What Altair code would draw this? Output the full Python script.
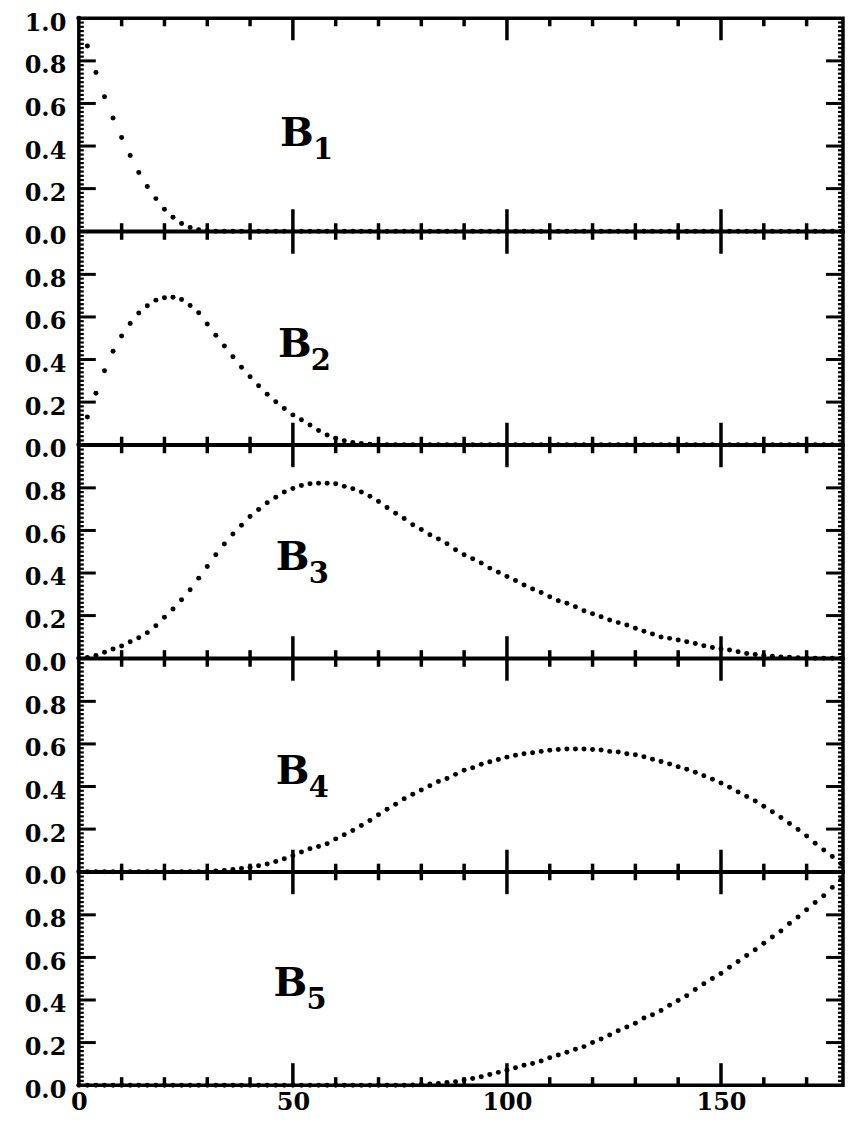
import altair as alt
import pandas as pd

# Sample angles (every 2 units, as the dots are spaced in the picture)
ANGLES = list(range(0, 180, 2))

B1 = [
    1.0, 0.87, 0.745, 0.632, 0.532, 0.44, 0.356, 0.276, 0.21, 0.153,
    0.103, 0.066, 0.036, 0.017, 0.007, 0.002, 0.0, 0.0, 0.0, 0.0,
    0.0, 0.0, 0.0, 0.0, 0.0, 0.0, 0.0, 0.0, 0.0, 0.0,
    0.0, 0.0, 0.0, 0.0, 0.0, 0.0, 0.0, 0.0, 0.0, 0.0,
    0.0, 0.0, 0.0, 0.0, 0.0, 0.0, 0.0, 0.0, 0.0, 0.0,
    0.0, 0.0, 0.0, 0.0, 0.0, 0.0, 0.0, 0.0, 0.0, 0.0,
    0.0, 0.0, 0.0, 0.0, 0.0, 0.0, 0.0, 0.0, 0.0, 0.0,
    0.0, 0.0, 0.0, 0.0, 0.0, 0.0, 0.0, 0.0, 0.0, 0.0,
    0.0, 0.0, 0.0, 0.0, 0.0, 0.0, 0.0, 0.0, 0.0, 0.0,
]
B2 = [
    0.0, 0.13, 0.242, 0.347, 0.439, 0.511, 0.569, 0.618, 0.653, 0.679,
    0.690, 0.693, 0.682, 0.654, 0.62, 0.567, 0.514, 0.463, 0.413, 0.364,
    0.319, 0.277, 0.237, 0.202, 0.170, 0.140, 0.117, 0.092, 0.067, 0.045,
    0.03, 0.018, 0.01, 0.005, 0.002, 0.0, 0.0, 0.0, 0.0, 0.0,
    0.0, 0.0, 0.0, 0.0, 0.0, 0.0, 0.0, 0.0, 0.0, 0.0,
    0.0, 0.0, 0.0, 0.0, 0.0, 0.0, 0.0, 0.0, 0.0, 0.0,
    0.0, 0.0, 0.0, 0.0, 0.0, 0.0, 0.0, 0.0, 0.0, 0.0,
    0.0, 0.0, 0.0, 0.0, 0.0, 0.0, 0.0, 0.0, 0.0, 0.0,
    0.0, 0.0, 0.0, 0.0, 0.0, 0.0, 0.0, 0.0, 0.0, 0.0,
]
B3 = [
    0.0, 0.003, 0.012, 0.028, 0.043, 0.057, 0.077, 0.096, 0.12, 0.152,
    0.192, 0.231, 0.274, 0.321, 0.376, 0.431, 0.486, 0.536, 0.583, 0.624,
    0.665, 0.698, 0.730, 0.756, 0.780, 0.797, 0.811, 0.819, 0.822, 0.822,
    0.819, 0.807, 0.796, 0.780, 0.761, 0.736, 0.708, 0.681, 0.656, 0.627,
    0.604, 0.58, 0.56, 0.537, 0.509, 0.486, 0.467, 0.447, 0.423, 0.404,
    0.384, 0.365, 0.344, 0.325, 0.308, 0.289, 0.270, 0.258, 0.242, 0.223,
    0.209, 0.195, 0.179, 0.167, 0.156, 0.14, 0.127, 0.113, 0.10, 0.093,
    0.085, 0.077, 0.069, 0.058, 0.05, 0.043, 0.038, 0.03, 0.022, 0.017,
    0.012, 0.009, 0.006, 0.004, 0.002, 0.001, 0.0, 0.0, 0.0, 0.0,
]
B4 = [
    0.0, 0.0, 0.0, 0.0, 0.0, 0.0, 0.0, 0.0, 0.0, 0.0,
    0.0, 0.0, 0.0, 0.0, 0.0, 0.001, 0.003, 0.006, 0.01, 0.015,
    0.021, 0.028, 0.036, 0.048, 0.061, 0.075, 0.092, 0.108, 0.118, 0.131,
    0.154, 0.173, 0.193, 0.217, 0.240, 0.267, 0.293, 0.317, 0.342, 0.364,
    0.384, 0.404, 0.423, 0.438, 0.457, 0.476, 0.488, 0.504, 0.516, 0.527,
    0.538, 0.547, 0.554, 0.559, 0.565, 0.570, 0.574, 0.576, 0.576, 0.576,
    0.574, 0.571, 0.565, 0.562, 0.554, 0.549, 0.540, 0.528, 0.518, 0.506,
    0.493, 0.481, 0.467, 0.451, 0.434, 0.417, 0.397, 0.374, 0.353, 0.332,
    0.307, 0.281, 0.254, 0.226, 0.198, 0.167, 0.133, 0.102, 0.071, 0.038,
]
B5 = [
    0.0, 0.0, 0.0, 0.0, 0.0, 0.0, 0.0, 0.0, 0.0, 0.0,
    0.0, 0.0, 0.0, 0.0, 0.0, 0.0, 0.0, 0.0, 0.0, 0.0,
    0.0, 0.0, 0.0, 0.0, 0.0, 0.0, 0.0, 0.0, 0.0, 0.0,
    0.0, 0.0, 0.0, 0.0, 0.0, 0.0, 0.0, 0.0, 0.0, 0.001,
    0.003, 0.005, 0.008, 0.012, 0.016, 0.024, 0.031, 0.039, 0.05, 0.06,
    0.07, 0.082, 0.094, 0.102, 0.113, 0.129, 0.142, 0.154, 0.169, 0.181,
    0.2, 0.217, 0.236, 0.255, 0.273, 0.291, 0.315, 0.331, 0.351, 0.375,
    0.398, 0.42, 0.449, 0.476, 0.501, 0.524, 0.554, 0.581, 0.609, 0.636,
    0.666, 0.696, 0.724, 0.759, 0.79, 0.824, 0.858, 0.89, 0.929, 0.965,
]
SERIES = [B1, B2, B3, B4, B5]
for s in SERIES:
    assert len(s) == len(ANGLES)

# Panel labels B_k (position in data units of each panel)
LABEL_MAIN = ["B", "B", "B", "B", "B"]
LABEL_SUB = ["1", "2", "3", "4", "5"]
LABEL_X = [47.0, 46.5, 46.0, 46.0, 45.5]
LABEL_Y = [0.40, 0.41, 0.415, 0.41, 0.42]

# Axis ticks and labels
X_LABELS = [0, 50, 100, 150]
X_MAJOR = [50, 100, 150]
X_MINOR = [10, 20, 30, 40, 60, 70, 80, 90, 110, 120, 130, 140, 160, 170]
Y_LABELS = [0.0, 0.2, 0.4, 0.6, 0.8]
Y_LABELS_TOP = [0.0, 0.2, 0.4, 0.6, 0.8, 1.0]
Y_MAJOR = [0.2, 0.4, 0.6, 0.8]
Y_MINOR = [round(0.02 * i, 2) for i in range(1, 50) if i % 10 != 0]
XMAX = 178.5

FONT = "DejaVu Serif"
PANEL_W = 766
PANEL_H = 213.4

# inward tick lengths (px)
XMAJ_LEN, XMIN_LEN = 22, 8
YMAJ_LEN, YMIN_LEN = 17, 5


def panel_table(i):
    rows = []
    for a, v in zip(ANGLES, SERIES[i]):
        rows.append({"angle": a, "value": v, "kind": "dot"})
    for p in X_MAJOR:
        rows.append({"angle": p, "value": 0.0, "kind": "xmaj0"})
        rows.append({"angle": p, "value": 1.0, "kind": "xmaj1"})
    for p in X_MINOR:
        rows.append({"angle": p, "value": 0.0, "kind": "xmin0"})
        rows.append({"angle": p, "value": 1.0, "kind": "xmin1"})
    for p in Y_MAJOR:
        rows.append({"angle": 0.0, "value": p, "kind": "ymaj0"})
        rows.append({"angle": XMAX, "value": p, "kind": "ymaj1"})
    for p in Y_MINOR:
        rows.append({"angle": 0.0, "value": p, "kind": "ymin0"})
        rows.append({"angle": XMAX, "value": p, "kind": "ymin1"})
    rows.append({"angle": LABEL_X[i], "value": LABEL_Y[i], "kind": "lab",
                 "main": LABEL_MAIN[i], "sub": LABEL_SUB[i]})
    return pd.DataFrame(rows)


def panel(i):
    last = i == len(SERIES) - 1
    xs = alt.Scale(domain=[0, XMAX], nice=False, zero=False)
    ys = alt.Scale(domain=[0, 1], nice=False)
    if last:
        x_axis = alt.Axis(values=X_LABELS, format="d", labelFont=FONT,
                          labelFontWeight="bold", labelFontSize=24,
                          labelColor="black", ticks=False, domain=False,
                          grid=False, title=None, labelPadding=5,
                          labelFlush=False)
    else:
        x_axis = None
    y_axis = alt.Axis(values=Y_LABELS_TOP if i == 0 else Y_LABELS,
                      format=".1f", labelFont=FONT, labelFontWeight="bold",
                      labelFontSize=24, labelColor="black", ticks=False,
                      domain=False, grid=False, title=None, labelPadding=13,
                      labelBaseline="top", labelOffset=-7,
                      minExtent=56, maxExtent=56)
    enc = dict(x=alt.X("angle:Q", scale=xs, axis=x_axis),
               y=alt.Y("value:Q", scale=ys, axis=y_axis))

    def sub(kind):
        return alt.Chart().transform_filter(alt.datum.kind == kind)

    def vtick(kind, length, up):
        return sub(kind).mark_tick(
            orient="vertical", size=length, thickness=3.5, color="black",
            opacity=1, yOffset=(-length / 2 if up else length / 2)).encode(**enc)

    def htick(kind, length, right, thick):
        return sub(kind).mark_tick(
            orient="horizontal", size=length, thickness=thick, color="black",
            opacity=1, xOffset=(length / 2 if right else -length / 2)).encode(**enc)

    layers = [
        htick("ymin0", YMIN_LEN, True, 2.2), htick("ymin1", YMIN_LEN, False, 2.2),
        htick("ymaj0", YMAJ_LEN, True, 3), htick("ymaj1", YMAJ_LEN, False, 3),
        vtick("xmin0", XMIN_LEN, True), vtick("xmin1", XMIN_LEN, False),
        vtick("xmaj0", XMAJ_LEN, True), vtick("xmaj1", XMAJ_LEN, False),
    ]
    dots = sub("dot").mark_circle(size=25, color="black", opacity=1).encode(**enc)
    big = sub("lab").mark_text(align="left", baseline="alphabetic", font=FONT,
                               fontWeight="bold", fontSize=40,
                               color="black").encode(text="main:N", **enc)
    small = sub("lab").mark_text(align="left", baseline="alphabetic", font=FONT,
                                 fontWeight="bold", fontSize=29, dx=33, dy=13,
                                 color="black").encode(text="sub:N", **enc)
    return alt.layer(*layers, dots, big, small,
                     data=panel_table(i)).properties(width=PANEL_W, height=PANEL_H)


chart = alt.vconcat(*[panel(i) for i in range(len(SERIES))], spacing=0,
                    bounds="flush",
                    padding={"left": 13, "top": 0, "right": 0, "bottom": 0},
                    background="white").configure_view(
    stroke="black", strokeWidth=3.5)

chart.save("out.html", embed_options={"renderer": "svg", "actions": False})
